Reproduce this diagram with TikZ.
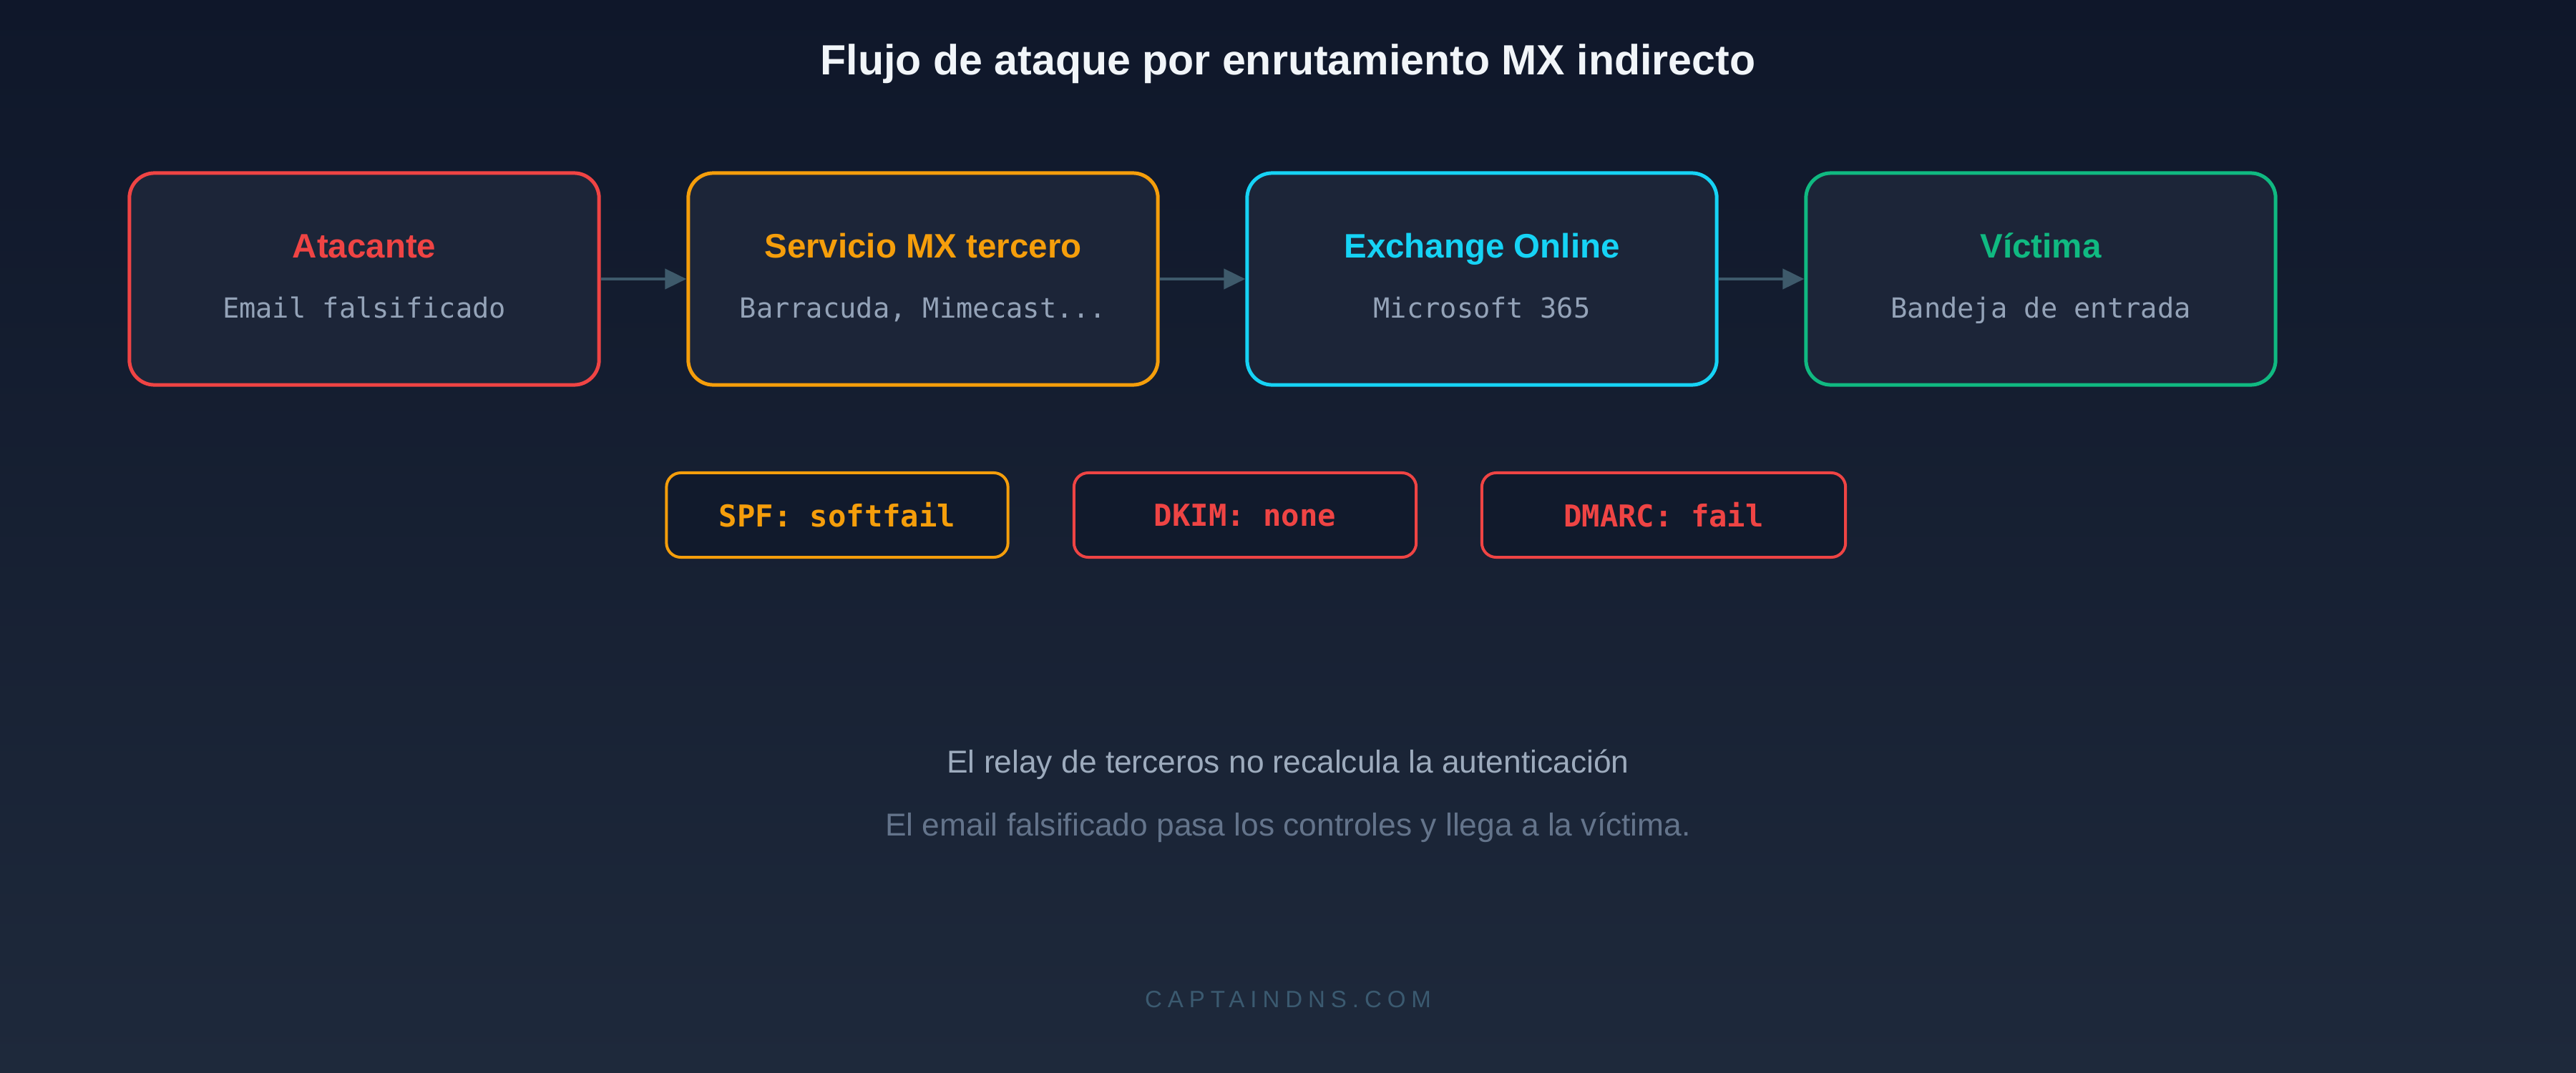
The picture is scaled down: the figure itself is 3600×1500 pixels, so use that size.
\documentclass[tikz,border=0pt]{standalone}
\usepackage{fontspec}
\setmainfont{Liberation Sans}
\setmonofont{DejaVu Sans Mono}
\newfontfamily\brandfont[LetterSpace=24]{Liberation Sans}
\usetikzlibrary{arrows.meta}

\definecolor{bgtop}{HTML}{0F172A}
\definecolor{bgbot}{HTML}{1E293B}
\definecolor{boxfill}{HTML}{1C2538}
\definecolor{tagfill}{HTML}{111A2C}
\definecolor{titlewhite}{HTML}{F1F5F9}
\definecolor{atkred}{HTML}{EF4444}
\definecolor{mxorange}{HTML}{F59E0B}
\definecolor{exocyan}{HTML}{16D3F5}
\definecolor{vicgreen}{HTML}{10B981}
\definecolor{subgray}{HTML}{94A3B8}
\definecolor{relaygray}{HTML}{9DABBD}
\definecolor{notegray}{HTML}{64748B}
\definecolor{arrowgray}{HTML}{3E5A6B}
\definecolor{brandblue}{HTML}{3B5A70}

\begin{document}
\begin{tikzpicture}[x=0.01cm, y=-0.01cm,
  stage/.style={shape=rectangle, rounded corners=0.35cm, draw, line width=0.05cm, fill=boxfill,
    minimum width=6.56cm, minimum height=2.96cm, inner sep=0pt},
  stagename/.style={anchor=base, font=\fontsize{13.5}{16}\selectfont\bfseries},
  stagenote/.style={anchor=base, text=subgray, font=\fontsize{11}{13}\selectfont\ttfamily},
  check/.style={shape=rectangle, rounded corners=0.2cm, draw, line width=0.04cm, fill=tagfill,
    minimum height=1.18cm, inner sep=0pt, font=\fontsize{12}{14}\selectfont\ttfamily\bfseries},
  hop/.style={->, color=arrowgray, line width=0.045cm,
    >={Triangle[length=0.3cm,width=0.28cm,fill=arrowgray]}}
]
  \shade [top color=bgtop, bottom color=bgbot] (0,0) rectangle (3600,1500);

  \node [anchor=base, text=titlewhite, font=\fontsize{16.8}{20}\selectfont\bfseries] (title) at (1800,105)
    {Flujo de ataque por enrutamiento MX indirecto};

  \node [stage, draw=atkred] (atk) at (509,390) {};
  \node [stage, draw=mxorange] (mx) at (1290,390) {};
  \node [stage, draw=exocyan] (exo) at (2071,390) {};
  \node [stage, draw=vicgreen] (vic) at (2852,390) {};

  \node [stagename, text=atkred] (atk-name) at (509,360) {Atacante};
  \node [stagenote] (atk-note) at (509,444) {Email falsificado};
  \node [stagename, text=mxorange] (mx-name) at (1290,360) {Servicio MX tercero};
  \node [stagenote] (mx-note) at (1290,444) {Barracuda, Mimecast...};
  \node [stagename, text=exocyan] (exo-name) at (2071,360) {Exchange Online};
  \node [stagenote] (exo-note) at (2071,444) {Microsoft 365};
  \node [stagename, text=vicgreen] (vic-name) at (2852,360) {Víctima};
  \node [stagenote] (vic-note) at (2852,444) {Bandeja de entrada};

  \path [hop] (atk) edge (mx);
  \path [hop] (mx) edge (exo);
  \path [hop] (exo) edge (vic);

  \node [check, draw=mxorange, text=mxorange, minimum width=4.77cm] (spf) at (1170,720) {SPF: softfail};
  \node [check, draw=atkred, text=atkred, minimum width=4.78cm] (dkim) at (1740,720) {DKIM: none};
  \node [check, draw=atkred, text=atkred, minimum width=5.08cm] (dmarc) at (2325,720) {DMARC: fail};

  \node [anchor=base, text=relaygray, font=\fontsize{12.6}{15}\selectfont] (relay) at (1800,1080)
    {El relay de terceros no recalcula la autenticación};
  \node [anchor=base, text=notegray, font=\fontsize{12.6}{15}\selectfont] (outcome) at (1800,1168)
    {El email falsificado pasa los controles y llega a la víctima.};
  \node [anchor=base, text=brandblue, font=\fontsize{9.4}{11}\selectfont] (brand) at (1800,1408)
    {\brandfont CAPTAINDNS.COM};
\end{tikzpicture}
\end{document}
